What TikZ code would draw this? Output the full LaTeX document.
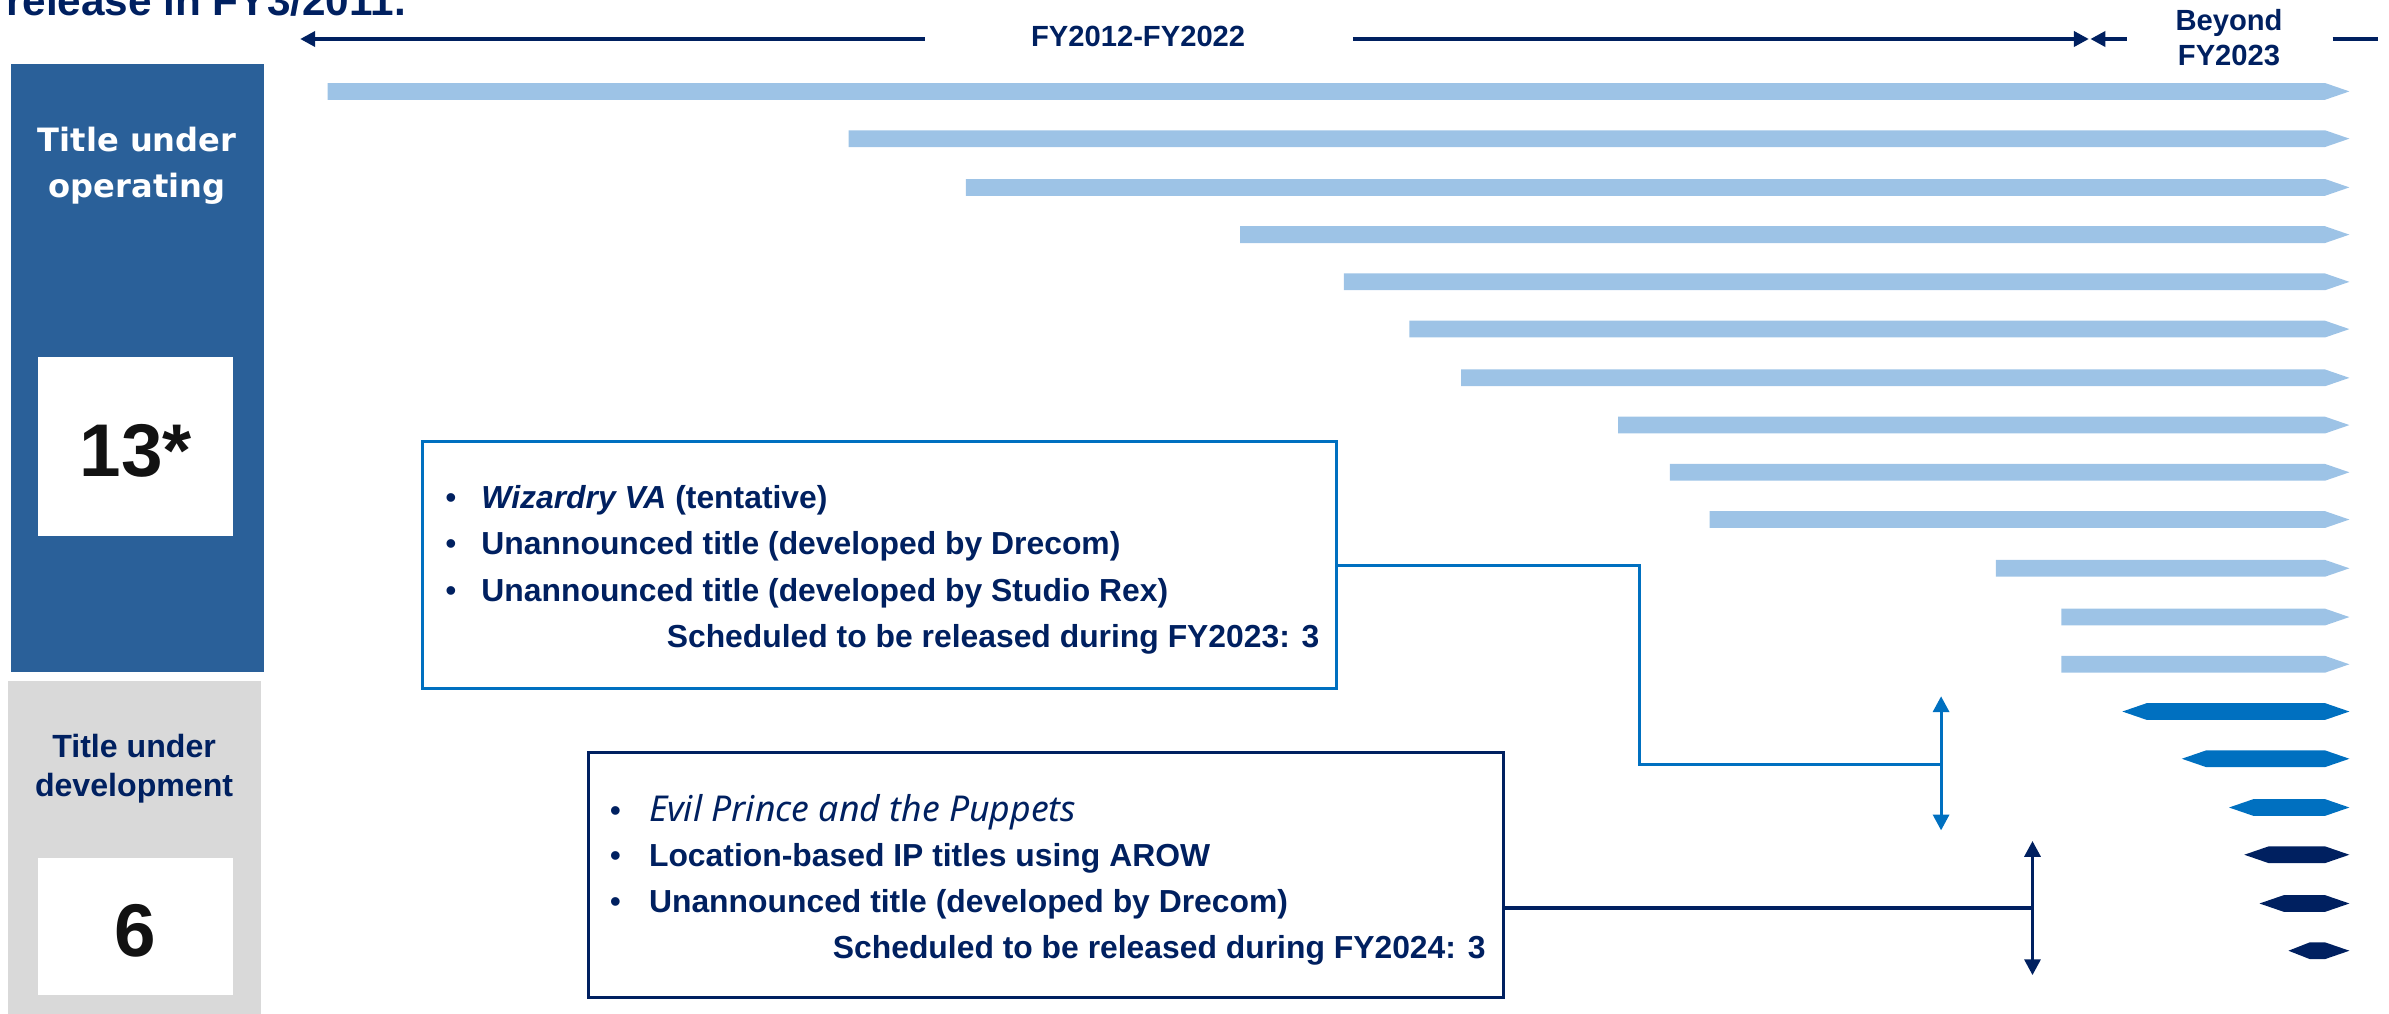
\documentclass[tikz,border=0pt]{standalone}
\usepackage{fontspec}
\setmainfont{Liberation Sans}
\newfontfamily\notosans{Noto Sans}
\newfontfamily\dejasans{DejaVu Sans}
\usetikzlibrary{arrows.meta}
\definecolor{navy}{HTML}{002060}
\definecolor{midblue}{HTML}{0070C0}
\definecolor{lightbar}{HTML}{9DC3E6}
\definecolor{panelblue}{HTML}{2A6099}
\definecolor{panelgray}{HTML}{D9D9D9}
\tikzset{
  ttip/.tip={Triangle[length=5.6pt,width=5.6pt]},
  vvtip/.tip={Triangle[length=5.9pt,width=6pt]},
}
\begin{document}
\begin{tikzpicture}[x=0.02cm,y=-0.02cm,
  every node/.style={inner sep=0pt, outer sep=0pt},
  txt/.style={font=\fontsize{11.9pt}{14pt}\selectfont\bfseries, text=navy},
  bul/.style={font=\fontsize{11.9pt}{14pt}\selectfont, text=navy},
  sched/.style={txt, anchor=base east},
  hdr/.style={font=\fontsize{10.9pt}{13pt}\selectfont\bfseries, text=navy},
  tline/.style={draw=navy, line width=1.5pt},
  listbox/.style={draw, line width=1.14pt, fill=none},
  bignum/.style={font=\fontsize{27.9pt}{30pt}\selectfont\bfseries, text=black!93},
  optitle/.style={font=\dejasans\fontsize{12pt}{14pt}\selectfont\bfseries, text=white, anchor=base},
]
\useasboundingbox (0,0) rectangle (1568,665);

% header (cropped)
\node[font=\fontsize{15.8pt}{18pt}\selectfont\bfseries, text=navy, anchor=base west] (head) at (4,10.5) {release in FY3/2011.};

% timeline header
\node[hdr, anchor=base] (fy1) at (747,30.2) {FY2012-FY2022};
\coordinate (l1a) at (607,25.6);
\coordinate (l1b) at (197,25.6);
\coordinate (l2a) at (888,25.6);
\coordinate (l2b) at (1371,25.6);
\coordinate (l3a) at (1396,25.6);
\coordinate (l3b) at (1372,25.6);
\coordinate (l4a) at (1531,25.6);
\coordinate (l4b) at (1561,25.6);
\draw[tline, -{ttip}] (l1a) -- (l1b);
\draw[tline, -{ttip}] (l2a) -- (l2b);
\draw[tline, -{ttip}] (l3a) -- (l3b);
\draw[tline] (l4a) -- (l4b);
\node[hdr, anchor=base] (by1) at (1463,20) {Beyond};
\node[hdr, anchor=base] (by2) at (1463,43) {FY2023};

% left panels
\fill[panelblue] (7,42) rectangle (173,441);
\fill[panelgray] (5,447) rectangle (171,668);
\node[optitle] (op1) at (90,99.5) {Title under};
\node[optitle] (op2) at (90,129.5) {operating};
\fill[white] (25,234) rectangle (153,352);
\node[bignum, anchor=base] (n13) at (89,313) {13*};
\node[font=\fontsize{12pt}{14pt}\selectfont\bfseries, text=navy, anchor=base] (dv1) at (88,497.5) {Title under};
\node[font=\fontsize{12pt}{14pt}\selectfont\bfseries, text=navy, anchor=base] (dv2) at (88,522.5) {development};
\fill[white] (25,563) rectangle (153,653);
\node[bignum, anchor=base] (n6) at (88.5,628) {6};

% operating bars
\foreach \yy/\xl in {60/215, 91/557, 123/634, 154/814, 185/882, 216/925, 248/959, 279/1062, 310/1096, 341/1122, 373/1310, 405/1353, 436/1353}{
  \fill[lightbar] (\xl,\yy-5.5) -- (1526,\yy-5.5) -- (1542,\yy) -- (1526,\yy+5.5) -- (\xl,\yy+5.5) -- cycle;
}
% development bars
\foreach \yy/\xl/\cc/\tl in {467/1393/midblue/16, 498/1432/midblue/16, 530/1463/midblue/16, 561/1473/navy/16, 593/1483/navy/16, 624/1502/navy/14}{
  \fill[\cc] (\xl,\yy) -- (\xl+\tl,\yy-5.5) -- (1526,\yy-5.5) -- (1542,\yy) -- (1526,\yy+5.5) -- (\xl+\tl,\yy+5.5) -- cycle;
}

% box 1
\node[listbox, draw=midblue, minimum width=12cm, minimum height=3.24cm] (box1) at (577,371) {};
\node[bul, anchor=base] (b1d1) at (296,334) {•};
\node[txt, anchor=base west] (b1t1) at (316,334) {\textit{Wizardry VA} (tentative)};
\node[bul, anchor=base] (b1d2) at (296,364) {•};
\node[txt, anchor=base west] (b1t2) at (316,364) {Unannounced title (developed by Drecom)};
\node[bul, anchor=base] (b1d3) at (296,394.5) {•};
\node[txt, anchor=base west] (b1t3) at (316,394.5) {Unannounced title (developed by Studio Rex)};
\node[sched] (b1s) at (866,425) {Scheduled to be released during FY2023: 3};

% box 2
\node[listbox, draw=navy, minimum width=12.02cm, minimum height=3.22cm] (box2) at (686.5,574.5) {};
\node[bul, anchor=base] (b2d1) at (404,539) {•};
\node[font=\notosans\itshape\fontsize{13.3pt}{15pt}\selectfont, text=navy, anchor=base west] (b2t1) at (426,539) {Evil Prince and the Puppets};
\node[bul, anchor=base] (b2d2) at (404,569) {•};
\node[txt, anchor=base west] (b2t2) at (426,569) {Location-based IP titles using AROW};
\node[bul, anchor=base] (b2d3) at (404,599) {•};
\node[txt, anchor=base west] (b2t3) at (426,599) {Unannounced title (developed by Drecom)};
\node[sched] (b2s) at (975,629) {Scheduled to be released during FY2024: 3};

% connectors and range arrows
\coordinate (a1t) at (1274,457);
\coordinate (a1b) at (1274,545);
\coordinate (a1m) at (1274,501.5);
\draw[midblue, line width=1.14pt, {vvtip}-{vvtip}] (a1t) -- (a1b);
\draw[midblue, line width=1.14pt] (box1.east) -- ++(199,0) |- (a1m);
\coordinate (a2t) at (1334,552);
\coordinate (a2b) at (1334,640);
\coordinate (a2m) at (1334,596);
\draw[navy, line width=1.14pt, {vvtip}-{vvtip}] (a2t) -- (a2b);
\draw[navy, line width=1.4pt] (box2.east |- a2m) -- (a2m);
\end{tikzpicture}
\end{document}
